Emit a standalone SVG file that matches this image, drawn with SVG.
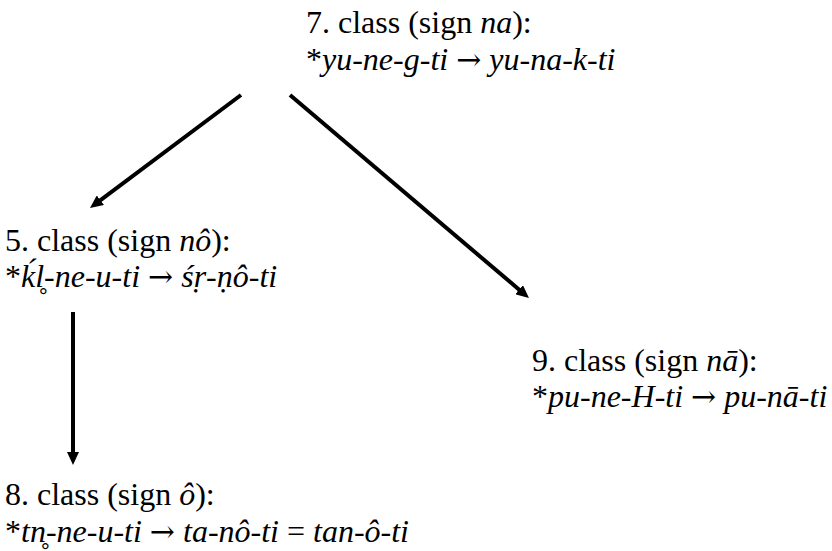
<svg xmlns="http://www.w3.org/2000/svg" width="832" height="551" viewBox="0 0 832 551">
<defs>
<style>
text{font-family:"Liberation Serif","Times New Roman",serif;font-size:32px;fill:#000}
.i{font-style:italic}
.ar{font-family:"DejaVu Serif",serif;font-size:30px}
.c{stroke:#000;stroke-width:4;fill:none}
</style>
<marker id="ah" markerUnits="userSpaceOnUse" markerWidth="14" markerHeight="12" refX="4" refY="6" orient="auto" viewBox="0 0 14 12">
<path d="M0,0 L13,6 L0,12 z" fill="#000"/>
</marker>
</defs>
<rect width="832" height="551" fill="#fff"/>
<g id="connectors">
<line class="c" x1="241" y1="95" x2="97.2" y2="202.6" marker-end="url(#ah)"/>
<line class="c" x1="290" y1="95" x2="522.1" y2="292.2" marker-end="url(#ah)"/>
<line class="c" x1="73" y1="312" x2="73" y2="456" marker-end="url(#ah)"/>
</g>
<g id="class7">
<text x="306" y="33">7. class (sign <tspan class="i">na</tspan>):</text>
<text x="306" y="70">*<tspan class="i">yu-ne-g-ti</tspan> <tspan class="ar">→</tspan> <tspan class="i">yu-na-k-ti</tspan></text>
</g>
<g id="class5">
<text x="5" y="251">5. class (sign <tspan class="i">nô</tspan>):</text>
<text x="5" y="287">*<tspan class="i">ḱl̥-ne-u-ti</tspan> <tspan class="ar">→</tspan> <tspan class="i">śṛ-ṇô-ti</tspan></text>
</g>
<g id="class9">
<text x="532" y="371">9. class (sign <tspan class="i">nā</tspan>):</text>
<text x="532" y="407">*<tspan class="i">pu-ne-H-ti</tspan> <tspan class="ar">→</tspan> <tspan class="i">pu-nā-ti</tspan></text>
</g>
<g id="class8">
<text x="5" y="505">8. class (sign <tspan class="i">ô</tspan>):</text>
<text x="5" y="542">*<tspan class="i">tn̥-ne-u-ti</tspan> <tspan class="ar">→</tspan> <tspan class="i">ta-nô-ti</tspan> = <tspan class="i">tan-ô-ti</tspan></text>
</g>
</svg>
